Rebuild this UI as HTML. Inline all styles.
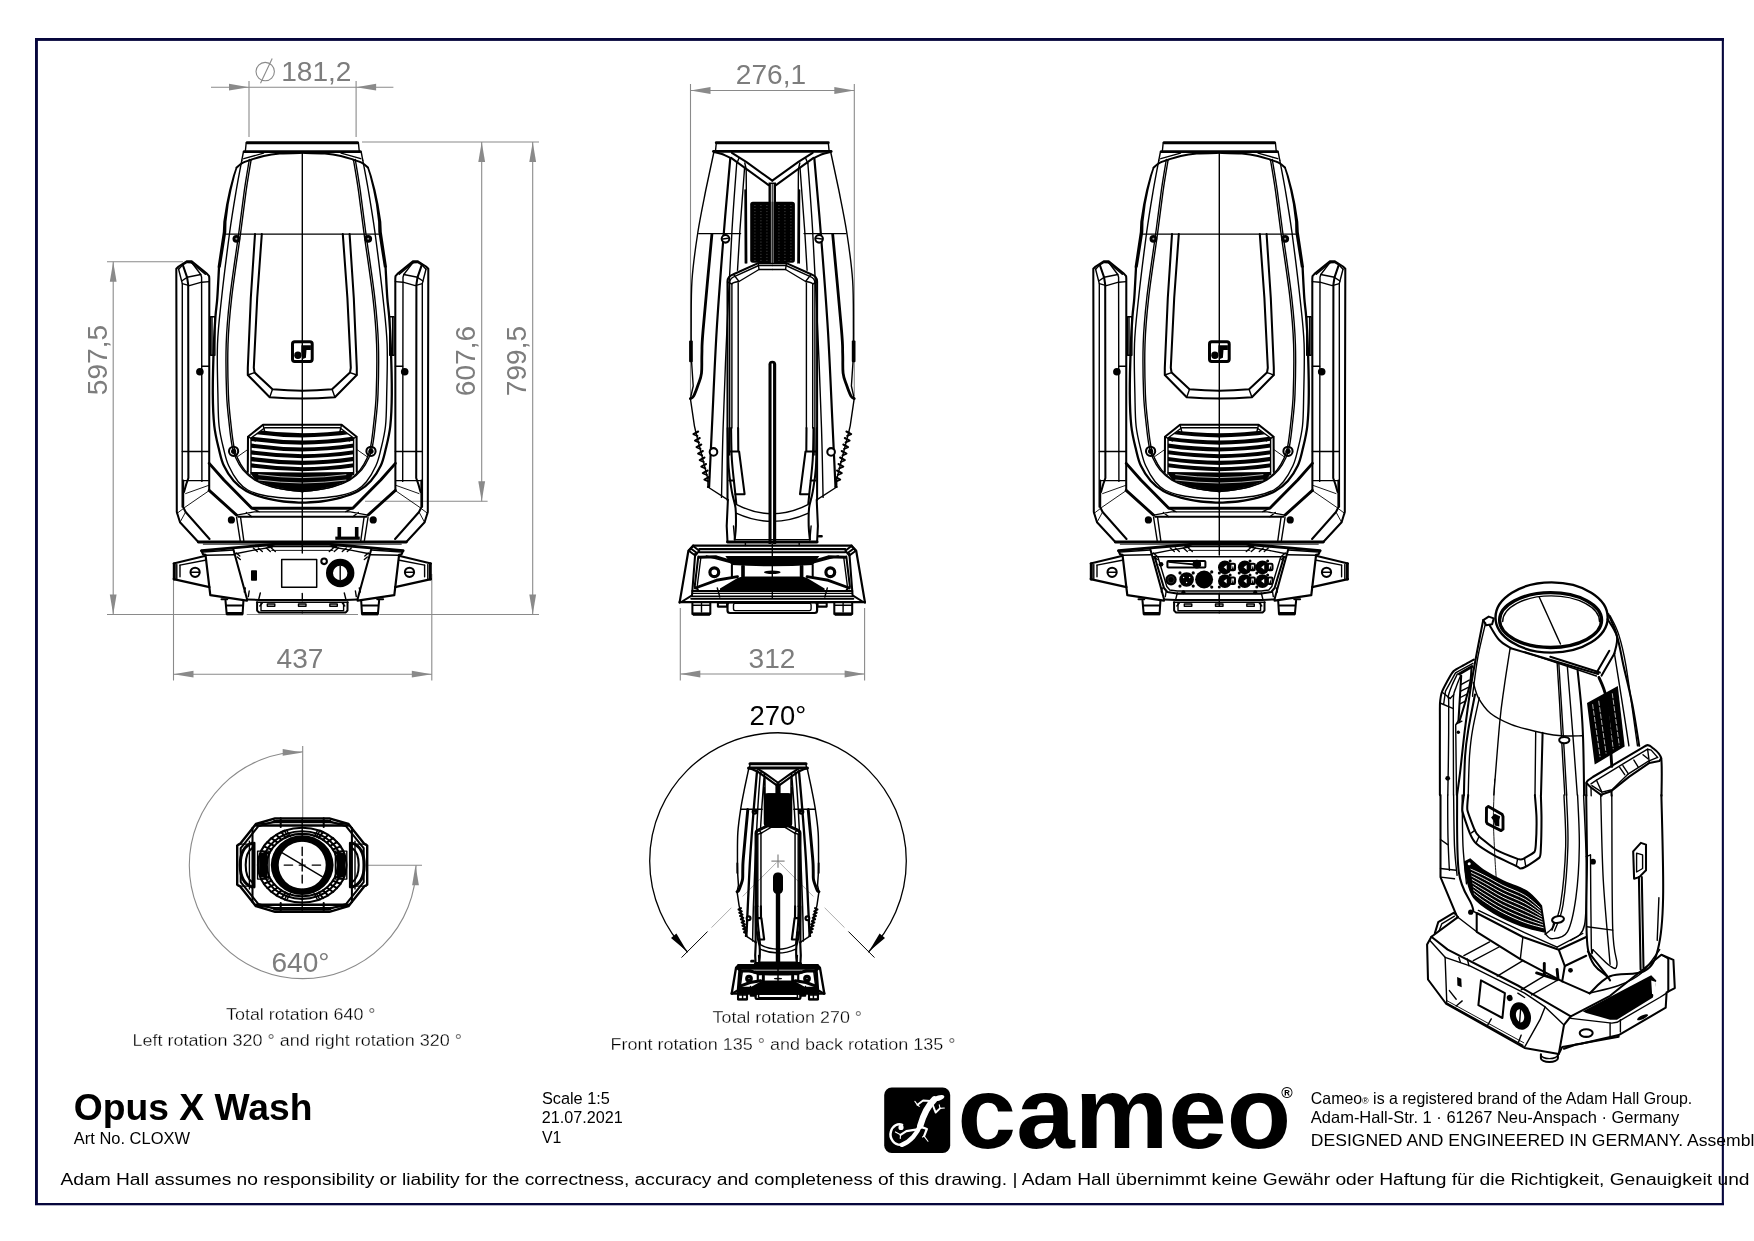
<!DOCTYPE html>
<html lang="en"><head><meta charset="utf-8"><title>Opus X Wash - Cameo dimension drawing</title>
<style>
html,body{margin:0;padding:0;background:#fff;}
body{width:1754px;height:1241px;overflow:hidden;position:relative;font-family:"Liberation Sans",sans-serif;}
svg{position:absolute;left:0;top:0;display:block;will-change:transform;}
text{font-family:"Liberation Sans",sans-serif;}
.k{fill:none;stroke:#000;stroke-width:calc(var(--sw,1)*1.4px);stroke-linejoin:round;stroke-linecap:round;}
.k2{fill:none;stroke:#000;stroke-width:calc(var(--sw,1)*2.05px);stroke-linejoin:round;stroke-linecap:round;}
.k3{fill:none;stroke:#000;stroke-width:calc(var(--sw,1)*2.9px);stroke-linejoin:round;stroke-linecap:round;}
.t{fill:none;stroke:#000;stroke-width:calc(var(--sw,1)*0.9px);stroke-linejoin:round;stroke-linecap:round;}
.f{fill:#000;stroke:none;}
.w{fill:#fff;stroke:#000;stroke-width:calc(var(--sw,1)*1.2px);}
.g{fill:none;stroke:#8a8a8a;stroke-width:1.1;}
.ga{fill:#8a8a8a;stroke:none;}
.gt{fill:#7d7d7d;font-size:28.1px;}
</style></head><body>
<svg width="1754" height="1241" viewBox="0 0 1754 1241">
<!-- frame -->
<g fill="#06063c">
<rect x="35" y="38" width="1689" height="2.9"/>
<rect x="35" y="1203" width="1689" height="2.3"/>
<rect x="35" y="38" width="2.9" height="1167"/>
<rect x="1721.8" y="38" width="2.1" height="1167"/>
</g>

<!-- dims -->
<path class="g" d="M249.0 81.0L249.0 137.0"/>
<path class="g" d="M356.1 81.0L356.1 137.0"/>
<path class="g" d="M211.0 87.2L393.4 87.2"/>
<path class="ga" d="M249.0 87.2L229.0 90.6L229.0 83.8Z"/>
<path class="ga" d="M356.1 87.2L376.1 83.8L376.1 90.6Z"/>
<circle class="g" cx="265.2" cy="71.6" r="9.2"/>
<path class="g" d="M260.5 83.3L272.2 58.6"/>
<text class="gt" x="316.3" y="81" text-anchor="middle">181,2</text>
<path class="g" d="M362.0 142.0L539.0 142.0"/>
<path class="g" d="M481.7 142.0L481.7 501.3"/>
<path class="ga" d="M481.7 142.0L485.1 162.0L478.3 162.0Z"/>
<path class="ga" d="M481.7 501.3L478.3 481.3L485.1 481.3Z"/>
<path class="g" d="M365.0 501.3L487.6 501.3"/>
<path class="g" d="M532.7 142.0L532.7 614.5"/>
<path class="ga" d="M532.7 142.0L536.1 162.0L529.3 162.0Z"/>
<path class="ga" d="M532.7 614.5L529.3 594.5L536.1 594.5Z"/>
<text class="gt" x="475.3" y="361" text-anchor="middle" transform="rotate(-90 475.3 361)">607,6</text>
<text class="gt" x="526.3" y="361" text-anchor="middle" transform="rotate(-90 526.3 361)">799,5</text>
<path class="g" d="M107.0 261.7L183.0 261.7"/>
<path class="g" d="M113.2 261.7L113.2 614.5"/>
<path class="ga" d="M113.2 261.7L116.6 281.7L109.8 281.7Z"/>
<path class="ga" d="M113.2 614.5L109.8 594.5L116.6 594.5Z"/>
<text class="gt" x="107.2" y="360" text-anchor="middle" transform="rotate(-90 107.2 360)">597,5</text>
<path class="g" d="M107.0 614.5L226.5 614.5"/>
<path class="g" d="M246.8 614.5L358.0 614.5"/>
<path class="g" d="M379.3 614.5L539.0 614.5"/>
<path class="g" d="M173.5 574.0L173.5 680.5"/>
<path class="g" d="M431.8 574.0L431.8 680.5"/>
<path class="g" d="M173.5 674.2L431.8 674.2"/>
<path class="ga" d="M173.5 674.2L193.5 670.8L193.5 677.6Z"/>
<path class="ga" d="M431.8 674.2L411.8 677.6L411.8 670.8Z"/>
<text class="gt" x="300" y="668.3" text-anchor="middle">437</text>
<path class="g" d="M690.5 84.0L690.5 396.0"/>
<path class="g" d="M854.3 84.0L854.3 396.0"/>
<path class="g" d="M690.5 90.5L854.3 90.5"/>
<path class="ga" d="M690.5 90.5L710.5 87.1L710.5 93.9Z"/>
<path class="ga" d="M854.3 90.5L834.3 93.9L834.3 87.1Z"/>
<text class="gt" x="771" y="83.6" text-anchor="middle">276,1</text>
<path class="g" d="M680.3 608.0L680.3 680.5"/>
<path class="g" d="M864.6 608.0L864.6 680.5"/>
<path class="g" d="M680.3 674.0L864.6 674.0"/>
<path class="ga" d="M680.3 674.0L700.3 670.6L700.3 677.4Z"/>
<path class="ga" d="M864.6 674.0L844.6 677.4L844.6 670.6Z"/>
<text class="gt" x="772" y="668.3" text-anchor="middle">312</text>
<path class="g" d="M302.7 751.8A113.4 113.4 0 1 0 416.1 865.2"/>
<path class="g" d="M302.7 746.0L302.7 818.5"/>
<path class="g" d="M367.0 865.2L422.0 865.2"/>
<path class="ga" d="M302.7 752.4L282.7 755.8L282.7 749.0Z"/>
<path class="ga" d="M415.5 865.2L418.9 885.2L412.1 885.2Z"/>
<text class="gt" x="300.5" y="971.5" text-anchor="middle">640°</text>
<path class="k" style="stroke-width:1.3" d="M687.3 951.8A128.3 128.3 0 1 1 868.7 951.8"/>
<path class="g" style="stroke-width:0.8;stroke:#999;stroke-dasharray:48 16 40" d="M776.6 862.5L711.5 927.6"/>
<path class="k" style="stroke-width:1" d="M707.3 931.8L681.8 957.3"/>
<path class="g" style="stroke-width:0.8;stroke:#999;stroke-dasharray:48 16 40" d="M779.4 862.5L844.5 927.6"/>
<path class="k" style="stroke-width:1" d="M848.7 931.8L874.2 957.3"/>
<path class="f" d="M687.3 951.8L671.0 938.1L676.4 933.5Z"/>
<path class="f" d="M868.7 951.8L879.6 933.5L885.0 938.1Z"/>
<path class="g" style="stroke-width:1.1;stroke:#777" d="M771.4 861.1L784.6 861.1"/>
<path class="g" style="stroke-width:1.1;stroke:#777" d="M778.0 854.5L778.0 867.7"/>

<!-- front -->
<defs>
<g id="hd">
<g id="hdL">
<path class="k" d="M-56.1 142.8L-56.9 150.8"/>
<path class="k" d="M-58.9 152L-60.5 160.3"/>
<path class="k2" d="M0 152.8C-3.8 152.9 -16.2 153.1 -22.6 153.6C-29 154.1 -33.9 154.9 -38.5 155.9C-43.1 156.9 -46.9 158.3 -50.5 159.5C-54.1 160.7 -57.6 161.8 -60.1 163.1C-62.6 164.4 -64.8 166.8 -65.7 167.5"/>
<path class="k" d="M-38.8 153.2L-58.5 158.7"/>
<path class="f" d="M-66.6 167.5L-69.3 175.5L-73.2 189.9L-76.2 204.2L-79 221.8L-79.5 232L-82.2 250L-84.8 267.6L-81.6 267.6L-78.8 250L-76 232L-75.8 221.8L-73.6 204.2L-70.8 189.9L-67.3 175.5L-64.8 167.5Z"/>
<path class="k3" style="stroke-width:2.3" d="M-83.3 267.6C-83.6 272.7 -84.4 289.9 -85 298C-85.6 306.1 -86.2 308.3 -86.8 316C-87.4 323.7 -88 331 -88.4 344C-88.9 357 -89.6 380.3 -89.5 394C-89.4 407.7 -89 416.7 -88 426C-87 435.3 -84.8 443.4 -83.2 450C-81.6 456.6 -80.9 460.6 -78.4 465.8C-76 471 -72.2 476.8 -68.5 481C-64.8 485.2 -61 488.2 -56 491C-51 493.8 -44.7 495.9 -38.5 497.6C-32.3 499.4 -25 500.6 -18.6 501.5C-12.2 502.4 -3.1 502.5 0 502.7"/>
<path class="k" d="M-60.5 160.3C-61.4 165.2 -64 178.1 -66 190C-68 201.9 -70.1 214 -72.6 232C-75 250 -78.7 279.3 -80.7 298C-82.7 316.7 -84.2 328 -84.8 344C-85.4 360 -84.7 380.3 -84.4 394C-84.1 407.7 -84.2 416.7 -83.2 426C-82.2 435.3 -80 443.4 -78.4 450C-76.8 456.6 -76 460.5 -73.6 465.8C-71.2 471.1 -67.3 477.8 -64.1 481.8C-60.9 485.8 -58.9 487.7 -54.5 490C-50.1 492.3 -44.1 494.2 -38 495.5C-31.9 496.8 -24.3 497.5 -18 498C-11.7 498.5 -3 498.5 0 498.6"/>
<path class="k" d="M-53 159.5C-53.8 164.6 -56.2 177.9 -57.9 190C-59.6 202.1 -61 214 -63.4 232C-65.8 250 -70.4 279.3 -72.5 298C-74.6 316.7 -75.6 328 -76.1 344C-76.6 360 -76.2 380.3 -75.7 394C-75.2 407.7 -73.8 417.3 -72.9 426C-72 434.7 -71.2 440.7 -70.2 446C-69.2 451.3 -68.4 453.8 -66.6 457.8C-64.8 461.8 -62.6 466.1 -59.4 469.8C-56.2 473.5 -52 477.4 -47.4 480.2C-42.8 483 -36.8 485 -31.5 486.6C-26.2 488.2 -20.6 489 -15.5 489.8C-10.4 490.6 -3.3 491.1 -0.9 491.3"/>
<path class="k" d="M-51.2 159.8C-52 164.9 -54.4 178.2 -56.1 190.3C-57.8 202.4 -59.2 214.3 -61.6 232.3C-64 250.3 -68.6 279.6 -70.7 298.3C-72.8 317 -73.8 328.3 -74.3 344.3C-74.8 360.3 -74.4 380.6 -73.9 394.3C-73.4 408 -72 417.6 -71.1 426.3C-70.2 435 -69.4 441 -68.4 446.3C-67.3 451.6 -66.6 454.1 -64.8 458.1C-63 462.1 -60.8 466.4 -57.6 470.1C-54.4 473.8 -50.2 477.7 -45.6 480.5C-41 483.3 -35 485.3 -29.7 486.9C-24.4 488.5 -18.8 489.3 -13.7 490.1C-8.6 490.9 -1.5 491.4 0.9 491.6"/>
<circle class="f" cx="-65.9" cy="238.8" r="3.9"/><circle cx="-65.9" cy="238.8" r="1" fill="#999"/>
<circle class="k2" cx="-68.7" cy="451.3" r="4.6"/><circle class="f" cx="-68.7" cy="451.3" r="2.6"/>
<path class="t" d="M-64.5 456.5L-54.5 449.5"/>
<path class="k2" d="M-47.3 234.1L-51.5 298L-54.5 367.8L-54.5 375L-32.6 397.2Q-15 398.4 0 398.6"/>
<path class="k2" d="M-40.5 234.1L-45.1 298L-48.5 367.8L-47.7 372.6L-29.8 389.3Q-14 390.6 0 390.8"/>
<path class="k" d="M-47.7 372.6L-54.5 375M-29.8 389.3L-32.6 397.2"/>
<rect class="k" x="-91.8" y="316.7" width="4.4" height="38.5"/>
<path class="k" d="M-90.3 317L-90.3 355"/>
<path class="k2" d="M0 424.7L-39.3 424.7L-54.3 436.7L-54.5 472"/>
<path class="k" d="M0 427.7L-37.5 427.7L-51.3 438L-51.3 474.5"/>
<path class="k" d="M-39.3 424.7L-37.5 432M-54.3 436.7L-47 441"/>
<clipPath id="vcl"><path d="M-51.3 490V438L-37.5 428.2H1V490Z"/></clipPath>
<path clip-path="url(#vcl)" d="M-52 431.4Q-25 435.2 1 435.4M-52 438.6Q-25 442.4 1 442.6M-52 445.5Q-25 449.3 1 449.5M-52 452.2Q-25 456.0 1 456.2M-52 458.9Q-25 462.7 1 462.9M-52 465.2Q-25 469.0 1 469.2" fill="none" stroke="#000" stroke-width="4.1"/>
<path class="f" d="M-52 472L-50 476L-46.5 480.2L-30.6 486.6L-14.6 489.8L0 491.3L0 472.5L-25 472.3Z"/>
<path d="M-44 474.6Q-22 477.4 0 477.6" fill="none" stroke="#fff" stroke-width="0.7"/>
<path d="M-44 480.0Q-22 482.8 0 483.0" fill="none" stroke="#fff" stroke-width="0.7"/>
</g>
<use href="#hdL" transform="scale(-1,1)"/>
<path class="k3" d="M-55.2 142.8L55.2 142.8"/>
<path class="k3" d="M-58 151.6L58 151.6"/>
<path class="k" d="M-76.5 234.1L76.5 234.1"/>
<rect class="k3" style="stroke-width:3" x="-9.8" y="341.7" width="19.7" height="19.7" rx="2.2"/>
<path class="f" d="M-0.9 345.3H8.6V350H4.2L3.6 357.8L0.5 359L-1 352Z"/><circle class="f" cx="-4.4" cy="355.3" r="3.7"/>
</g>
<g id="yk">
<g id="ykL">
<path class="k2" d="M-93.1 490.4L-93 278.5L-93.2 276.2L-95.2 273.9L-110.6 261.2L-115.2 261.2L-123.7 266.5L-126 268.8L-125.5 512L-122.3 522.3L-104 542"/>
<path class="k" d="M-123.7 269.3L-120.6 281.3L-120 283.6L-120.1 507.1"/>
<path class="k2" d="M-119.5 264.8L-115.2 277.3L-114.1 284.7L-113.9 478L-116 484L-118.3 492"/>
<path class="k" d="M-110.4 262.8L-101.5 274.5L-100.7 277.3L-100.4 481.4"/>
<path class="k" d="M-123.7 269.3L-119.5 264.8L-115.2 262.5L-110.4 262.8"/>
<path class="k" d="M-111.8 261.9L-97 274.2"/>
<path class="k" d="M-120.6 281L-115.2 277.3L-101.5 274.5M-120 283.6L-112.9 285.6L-100.7 282.2L-93 281.6"/>
<path class="k" d="M-120 451.5L-93.1 451.5M-119 480.6L-94 480.6"/>
<circle class="f" cx="-102.4" cy="371.8" r="3.8"/>
<path class="k" d="M-100.4 366.2L-93.1 366.2"/>
<path class="k2" d="M-119.1 480.6L-119.1 507.1L-116.7 512L-92.8 539"/>
<path class="t" d="M-93.2 485.2L-116.7 493.6M-94 491.2L-117.1 507.1M-125.5 513.5L-117.5 507.5M-122.3 522.3L-116.7 512"/>
<path class="k3" d="M-93.1 463.4L-78.4 480L-50.5 508.2L0 508.2"/>
<path class="k3" d="M-93.1 490.4L-65.7 515.1"/>
<path class="k" d="M-65.7 515.1L-48.1 511.9L0 511.9M-50.5 508.2L-43 511.9M-56 512.5L-50.5 516.7"/>
<path class="k2" d="M-64.1 516.7L0 516.7"/>
<path class="k" d="M-65.7 517.5L-62.1 540.7M-61.7 517.5L-58.5 540.7"/>
<circle class="f" cx="-70.9" cy="519.9" r="3.6"/>
</g>
<use href="#ykL" transform="scale(-1,1)"/>
<path class="k3" d="M-104 542L104 542"/>
<path class="t" d="M-99 544.2L99 544.2"/>
</g>
<g id="bs">
<g id="bsL">
<path class="k3" d="M-100.8 550.6L-26.6 544.2L0 544.2"/>
<path class="k" d="M-34.5 546.6L0 546.6"/>
<path class="t" d="M-30.6 550.4L0 550.4"/>
<path class="k3" style="stroke-width:2.2" d="M-100.8 550.8L-99.2 554.4L-96.8 554.8L-92 595.1L-55.3 600.6"/>
<path class="k" d="M-96.8 555.2L-68.1 554.8M-99.2 552L-68.9 550"/>
<path class="k2" d="M-68.9 549.5L-55.3 599"/>
<path class="k" d="M-68.1 554L-49.7 550.4L-30 547"/>
<path class="k2" d="M-55.3 599.4L-43.3 599.9L0 599.9"/>
<path class="k" d="M-45.7 602.3L0 602.3"/>
<path class="k" d="M-49 548L-45 551.5"/>
<path class="k" d="M-44 548L-40 551.5"/>
<path class="k" d="M-36 548L-32 551.5"/>
<path class="k" d="M-31 548L-27 551.5"/>
<path class="k" d="M-66 553L-62.5 556M-65 557L-62 559.5"/>
<path class="k" d="M-53.1 591L-54 596.6M-42 593L-43.5 599M-57 588L-58 592"/>
<path class="k3" style="stroke-width:3" d="M-128 563.8L-128 578.9"/>
<path class="k2" d="M-128.7 563.5L-97.6 556"/>
<path class="k" d="M-122.3 565.1L-97.2 560.3"/>
<path class="k3" style="stroke-width:2.2" d="M-128.7 579.1L-92.8 587.1"/>
<path class="k" d="M-122.3 565.1L-122.3 576.7M-125.5 564.5L-125.5 578.5"/>
<circle class="k2" cx="-107.2" cy="572.3" r="4.6"/>
<path class="k" d="M-111.5 572.3L-103 572.3"/>
<path class="k2" d="M-80.8 599.2L-75 599.2"/>
<path class="k2" d="M-76.8 600.6L-75.6 614M-58.9 601L-59.7 614M-76.3 605.4L-59.3 605.4"/>
<rect class="f" x="-75.8" y="612" width="16.4" height="3.4"/>
<path class="k3" style="stroke-width:2" d="M-45.2 602.3L-45.2 610.5L-43.5 612.4L0 612.4"/>
<path class="k" d="M-41.3 603L-41.3 610.6L0 610.6"/>
<path class="k" d="M-42.5 606L-40 603"/>
<rect class="k" x="-35" y="604" width="7.5" height="2.2"/>
</g>
<use href="#bsL" transform="scale(-1,1)"/>
<path class="k" d="M0 593.5L0 599.5"/>
<rect class="k" x="-3.8" y="604" width="7.5" height="2.2"/>
</g>
</defs>
<g transform="translate(302.3,0)">
<use href="#hd"/><use href="#yk"/><use href="#bs"/>
<path class="t" style="stroke-width:1.4" d="M0 152.8L0 553"/>
<rect class="f" x="33" y="536.6" width="24.5" height="3.2"/><rect class="f" x="35.2" y="527" width="3.6" height="10"/><rect class="f" x="52.6" y="527" width="3.6" height="10"/>
<rect class="k2" style="stroke-width:1.5" x="-20.6" y="559.5" width="35" height="27.8"/>
<circle cx="37.9" cy="573" r="10.7" fill="none" stroke="#000" stroke-width="7"/>
<path class="k" d="M37.9 566L37.9 580"/>
<circle class="k2" cx="21.8" cy="561.3" r="2.8"/>
<rect class="f" x="-51.3" y="570.3" width="6" height="10.4" rx="0.8"/>
</g>

<!-- side -->
<defs>
<g id="sd">
<g id="sdL">
<path class="k" d="M-56 142.8L-56.8 151"/>
<path class="k" d="M-58.4 152L-66.5 190L-66.5 190C-67.8 197 -72.1 217 -74.4 232C-76.7 247 -79.2 263.7 -80.3 280C-81.4 296.3 -81 316.3 -81.1 330C-81.2 343.7 -80.8 356.7 -80.7 362L-80.7 362L-79.1 386L-81.9 398.6L-77.9 425.8L-76.5 432"/>
<path class="k2" d="M-58.4 152C-57.1 152.3 -53.1 153 -50.4 154C-47.7 155 -43.4 157.2 -42 157.9"/>
<path class="k2" d="M-40.4 152.8L-26.1 161.9L0 180.7"/>
<path class="k2" d="M-41.2 157.9L-3.7 185.1"/>
<path class="k" d="M-27.5 163L-26.3 168.5M-33.5 158.5L-35.5 163.5"/>
<path class="k2" style="stroke-width:calc(var(--sw,1)*2.2px)" d="M-42 158C-43.1 170.3 -46.1 203.3 -48.4 232C-50.7 260.7 -53.6 297.3 -55.6 330C-57.6 362.7 -59.1 401.8 -60.4 428C-61.7 454.2 -62.7 477.2 -63.2 487"/>
<path class="k" d="M-35.6 163.5C-36.4 174.9 -38.8 204.2 -40.4 232C-42 259.8 -43.9 297.3 -45.4 330C-46.9 362.7 -48.3 400.1 -49.2 428C-50.1 455.9 -50.5 485.8 -50.8 497.4"/>
<path class="k" d="M-27.7 167.5L-32.5 232L-34.8 270.3M-26.1 169L-25.6 263M-27.3 190L-27 263"/>
<path class="k3" style="stroke-width:calc(var(--sw,1)*2.8px)" d="M-60.4 234.4C-61.9 250.3 -67.5 310.1 -69.2 330C-70.9 349.9 -70.1 346.7 -70.4 353.9C-70.7 361.1 -70.2 368 -70.8 373.1C-71.4 378.2 -72.7 380.5 -74 384.3C-75.3 388.1 -77.4 393.8 -78.7 396.2C-80 398.6 -81.4 398.2 -81.9 398.6"/>
<path class="k" d="M-73.6 233.6L-31.7 233.6"/>
<circle class="k2" cx="-46.8" cy="238.8" r="3.8" style="fill:#fff"/>
<path class="k" d="M-49.5 239L-44.2 238.3"/>
<rect class="f" x="-83.2" y="340.4" width="3.7" height="21.8" rx="1"/>
<circle class="k2" cx="-58.8" cy="451.9" r="3.8" style="fill:#fff"/>
<path class="k2" style="stroke-width:calc(var(--sw,1)*2px)" d="M-74.1 431.5L-78.9 434.1L-74.9 435.9M-72.5 438.0L-77.3 440.6L-73.3 442.4M-71.0 444.5L-75.8 447.1L-71.8 448.9M-69.4 451.0L-74.2 453.6L-70.2 455.4M-67.8 457.5L-72.6 460.1L-68.6 461.9M-66.2 464.0L-71.0 466.6L-67.0 468.4M-64.7 470.5L-69.5 473.1L-65.5 474.9M-63.1 477.0L-67.9 479.6L-63.9 481.4"/>
<path class="k" d="M-76.5 432L-64.4 479.1L-64.4 487L-44.4 499.8"/>
<path class="k2" d="M-63.2 487L-64.4 487"/>
<path class="k2" d="M-44.8 500V281.5Q-44.8 276.5 -38.8 274.3L-14.1 263.1H0"/>
<path class="k" d="M-42.6 455V283Q-42.6 278 -37.5 276.3L-13.6 265.5H0"/>
<path class="k" d="M-40.4 428V284Q-40 282.5 -33.3 281.5L-13.3 269.5H0"/>
<path class="k" d="M-34.1 283L-34.1 428"/>
<path class="k" d="M-38.8 274.3L-33.3 281.5M-14.1 263.1L-13.3 269.5M-44.8 282L-40.4 284"/>
<path class="k2" d="M-44.6 428C-44.4 434.6 -44.3 457.3 -43.6 467.9C-42.9 478.5 -41.5 485.1 -40.4 491.8C-39.3 498.5 -37.5 502.1 -36.8 507.8C-36.1 513.5 -36.3 520.7 -36.4 526C-36.5 531.3 -37.4 537.3 -37.6 539.6"/>
<path class="k2" d="M-41.2 428C-41.1 433.3 -41.1 449.4 -40.4 460C-39.7 470.6 -37.9 484.5 -37.2 491.8C-36.5 499.1 -36.2 501.8 -36 503.8"/>
<path class="k2" d="M-44.4 499.8L-45.6 526L-44.8 542"/>
<path class="k2" d="M-34.2 428L-34 451.5M-43.6 451.5L-33.2 451.5L-27.7 494.2L-36.8 494.2M-43 480.5L-38.5 480.5"/>
<path class="k" d="M-38.8 526L-37.6 539.6"/>
<path class="k" d="M-26.9 542L-26.9 545.5"/>
<path class="k3" style="stroke-width:calc(var(--sw,1)*2.2px)" d="M-79.1 545.6L-83.9 550.7L-92.7 602.6"/>
<path class="k2" d="M-77.1 553.9L-80.3 595.4L-91 602"/>
<path class="k2" d="M-79.1 546L-73.1 550.8L-77.1 555.5L-83.5 550.7ZM-81.5 548.5L-75 553.3"/>
<path class="k3" d="M-73 557.2L-56 556.8L-36.7 562.6"/>
<path class="k3" d="M-77 588L-56 580.3L-34.8 576.6"/>
<path class="k2" d="M-74 556.5L-77.6 586.7L-74.5 589.5"/>
<path class="k" d="M-71.5 558L-75 585.5"/>
<path class="k2" d="M-40.4 565L-40.4 576.5M-30.1 566L-30.1 576.5M-28.5 566L-28.5 576.5"/>
<circle cx="-58" cy="572.3" r="4.4" fill="none" stroke="#000" style="stroke-width:calc(var(--sw,1)*3.2px)"/>
<path class="k" d="M-66 556L-40 563"/>
<path class="k" d="M-55 588L-52.5 597"/>
<rect class="k2" x="-79.9" y="602" width="17.9" height="12"/>
<rect class="f" x="-79.5" y="612.4" width="17.1" height="3.4"/>
<path class="k" d="M-70.8 602L-70.8 612M-79.5 605.2L-62.5 605.2"/>
<rect class="k2" x="-54.4" y="602.6" width="9.2" height="4"/>
</g>
<use href="#sdL" transform="scale(-1,1)"/>
<path class="k3" d="M-56 142.8L56 142.8"/>
<path class="k3" d="M-58.8 151.4L58.8 151.4"/>
<rect class="f" x="-3.8" y="182.5" width="7.5" height="21"/>
<path d="M-0.9 184V262.7M0.9 184V262.7" stroke="#fff" style="stroke-width:calc(var(--sw,1)*0.55px)" fill="none"/>
<rect class="f" x="-22.1" y="201.8" width="44.7" height="60.9" rx="2.6"/>
<path d="M-17.7 205.5h.7M-17.7 208.6h.7M-17.7 211.6h.7M-17.7 214.7h.7M-17.7 217.7h.7M-17.7 220.8h.7M-17.7 223.8h.7M-17.7 226.9h.7M-17.7 229.9h.7M-17.7 233.0h.7M-17.7 236.0h.7M-17.7 239.1h.7M-17.7 242.1h.7M-17.7 245.2h.7M-17.7 248.2h.7M-17.7 251.3h.7M-17.7 254.3h.7M-17.7 257.4h.7M-17.7 260.4h.7M-11.7 205.5h.7M-11.7 208.6h.7M-11.7 211.6h.7M-11.7 214.7h.7M-11.7 217.7h.7M-11.7 220.8h.7M-11.7 223.8h.7M-11.7 226.9h.7M-11.7 229.9h.7M-11.7 233.0h.7M-11.7 236.0h.7M-11.7 239.1h.7M-11.7 242.1h.7M-11.7 245.2h.7M-11.7 248.2h.7M-11.7 251.3h.7M-11.7 254.3h.7M-11.7 257.4h.7M-11.7 260.4h.7M-5.7 205.5h.7M-5.7 208.6h.7M-5.7 211.6h.7M-5.7 214.7h.7M-5.7 217.7h.7M-5.7 220.8h.7M-5.7 223.8h.7M-5.7 226.9h.7M-5.7 229.9h.7M-5.7 233.0h.7M-5.7 236.0h.7M-5.7 239.1h.7M-5.7 242.1h.7M-5.7 245.2h.7M-5.7 248.2h.7M-5.7 251.3h.7M-5.7 254.3h.7M-5.7 257.4h.7M-5.7 260.4h.7M6.3 205.5h.7M6.3 208.6h.7M6.3 211.6h.7M6.3 214.7h.7M6.3 217.7h.7M6.3 220.8h.7M6.3 223.8h.7M6.3 226.9h.7M6.3 229.9h.7M6.3 233.0h.7M6.3 236.0h.7M6.3 239.1h.7M6.3 242.1h.7M6.3 245.2h.7M6.3 248.2h.7M6.3 251.3h.7M6.3 254.3h.7M6.3 257.4h.7M6.3 260.4h.7M12.3 205.5h.7M12.3 208.6h.7M12.3 211.6h.7M12.3 214.7h.7M12.3 217.7h.7M12.3 220.8h.7M12.3 223.8h.7M12.3 226.9h.7M12.3 229.9h.7M12.3 233.0h.7M12.3 236.0h.7M12.3 239.1h.7M12.3 242.1h.7M12.3 245.2h.7M12.3 248.2h.7M12.3 251.3h.7M12.3 254.3h.7M12.3 257.4h.7M12.3 260.4h.7M18.3 205.5h.7M18.3 208.6h.7M18.3 211.6h.7M18.3 214.7h.7M18.3 217.7h.7M18.3 220.8h.7M18.3 223.8h.7M18.3 226.9h.7M18.3 229.9h.7M18.3 233.0h.7M18.3 236.0h.7M18.3 239.1h.7M18.3 242.1h.7M18.3 245.2h.7M18.3 248.2h.7M18.3 251.3h.7M18.3 254.3h.7M18.3 257.4h.7M18.3 260.4h.7" stroke="#bbb" style="stroke-width:calc(var(--sw,1)*0.6px)" fill="none"/>
<path d="M-0.9 184V262.7M0.9 184V262.7" stroke="#fff" style="stroke-width:calc(var(--sw,1)*0.55px)" fill="none"/>
<path class="k" d="M-35.6 504.6Q0 523 35.6 504.6M-35.6 513.4Q0 529.4 35.6 513.4"/>
<path class="f" d="M-3.8 544V364.5a3.8 3.8 0 0 1 7.7 0V544Z"/>
<path d="M0 363.5V544" stroke="#fff" style="stroke-width:calc(var(--sw,1)*1.5px)" fill="none"/>
<path class="k" d="M0 544L0 598"/>
<path class="k3" d="M-44.8 542L44.8 542"/>
<path class="k" d="M-37.6 539.6L37.6 539.6"/>
<path class="k3" style="stroke-width:calc(var(--sw,1)*2.2px)" d="M-79.1 545.6L79.1 545.6"/>
<path class="k2" d="M-73 549.1L73 549.1M-73 552.3L73 552.3"/>
<path class="f" d="M-47 556L47 556L40.6 565Q0 567.6 -40.6 565Z"/>
<path class="f" d="M-52.3 588.4L-34.8 578L-30 576.4H30L34.8 578L52.3 588.4V590H-52.3Z"/>
<ellipse class="f" cx="0" cy="572.3" rx="8.3" ry="1.8"/>
<path class="k2" d="M-80 591L80 591M-81 598.8L81 598.8"/>
<path class="k" d="M-80 593.4L80 593.4M-80.5 596.2L80.5 596.2"/>
<path class="k3" style="stroke-width:calc(var(--sw,1)*2.2px)" d="M-92.7 602.2L92.7 602.2"/>
<rect class="k3" style="stroke-width:calc(var(--sw,1)*2.2px)" x="-44.8" y="602.4" width="89.6" height="10.6" rx="2.5"/>
<rect class="k" x="-38.8" y="603.4" width="77.6" height="7.2" rx="1.5"/>
</g>
</defs>
<use href="#sd" transform="translate(772.3,0)"/>
<g transform="translate(772.3,0)"><rect class="f" x="45.5" y="535" width="5" height="2.6" rx="1"/></g>

<!-- rear -->
<g transform="translate(1219.3,0)">
<use href="#hd"/><use href="#yk"/><use href="#bs"/>
<path class="t" style="stroke-width:1.4" d="M0 152.8L0 555M0 593.5L0 606"/>
<path class="k2" d="M-64.7 556.7L-55.3 588L-52 592L-42.3 593.6L42.3 593.6L52 592L55.3 588L64.7 556.7"/>
<path class="k" d="M-61.5 556.7L-52.5 586.5L-49.5 590L-42 591L42 591L49.5 590L52.5 586.5L61.5 556.7"/>
<path class="k" d="M-66 556.7L66 556.7"/>
<circle class="f" cx="-58.3" cy="564.3" r="2.4"/>
<rect class="k2" x="-51.9" y="560.9" width="38" height="6.6" rx="1"/>
<path class="f" d="M-51 561.5L-24 563.6L-24 565.4L-51 562.8Z"/><circle class="f" cx="-22.4" cy="564.2" r="4.4"/><rect class="w" x="-18.2" y="562.6" width="2.2" height="3" style="stroke:none"/>
<circle class="f" cx="-48.3" cy="579.7" r="5.7"/><circle cx="-48.3" cy="579.7" r="3.2" fill="none" stroke="#444" stroke-width="0.6"/>
<circle class="f" cx="-32.7" cy="579.5" r="7.3"/>
<circle class="f" cx="-39.3" cy="572.9" r="1.6"/>
<circle class="f" cx="-26.1" cy="572.9" r="1.6"/>
<circle class="f" cx="-39.3" cy="586.1" r="1.6"/>
<circle class="f" cx="-26.1" cy="586.1" r="1.6"/>
<circle class="f" cx="-15.2" cy="579.5" r="9"/>
<circle class="f" cx="-7.6" cy="571.9" r="1.6"/>
<circle class="f" cx="-7.6" cy="587.1" r="1.6"/>
<circle cx="-35.7" cy="577.5" r="0.7" fill="#fff"/>
<circle cx="-29.700000000000003" cy="577.5" r="0.7" fill="#fff"/>
<circle cx="-32.7" cy="582.5" r="0.7" fill="#fff"/>
<circle class="f" cx="5.6" cy="567.3" r="6.9"/>
<circle class="f" cx="10.8" cy="561.1" r="1.5"/><circle class="f" cx="0.0" cy="573.1" r="1.5"/>
<rect class="k2" x="11.1" y="563.7" width="4.6" height="6.4" rx="1.2" style="fill:#fff"/>
<path d="M4.4 567.3l3 -2.4l0 4.8z" fill="#fff"/><path d="M12.6 569.1l1 -3.6l1 3.6z" fill="#000"/>
<circle class="f" cx="5.6" cy="581.1" r="6.9"/>
<circle class="f" cx="10.8" cy="574.9" r="1.5"/><circle class="f" cx="0.0" cy="586.9" r="1.5"/>
<rect class="k2" x="11.1" y="577.5" width="4.6" height="6.4" rx="1.2" style="fill:#fff"/>
<path d="M4.4 581.1l3 -2.4l0 4.8z" fill="#fff"/><path d="M12.6 582.9l1 -3.6l1 3.6z" fill="#000"/>
<circle class="f" cx="25.5" cy="567.3" r="6.9"/>
<circle class="f" cx="30.7" cy="561.1" r="1.5"/><circle class="f" cx="19.9" cy="573.1" r="1.5"/>
<rect class="k2" x="31.0" y="563.7" width="4.6" height="6.4" rx="1.2" style="fill:#fff"/>
<path d="M24.3 567.3l3 -2.4l0 4.8z" fill="#fff"/><path d="M32.5 569.1l1 -3.6l1 3.6z" fill="#000"/>
<circle class="f" cx="25.5" cy="581.1" r="6.9"/>
<circle class="f" cx="30.7" cy="574.9" r="1.5"/><circle class="f" cx="19.9" cy="586.9" r="1.5"/>
<rect class="k2" x="31.0" y="577.5" width="4.6" height="6.4" rx="1.2" style="fill:#fff"/>
<path d="M24.3 581.1l3 -2.4l0 4.8z" fill="#fff"/><path d="M32.5 582.9l1 -3.6l1 3.6z" fill="#000"/>
<circle class="f" cx="43.1" cy="567.3" r="6.9"/>
<circle class="f" cx="48.3" cy="561.1" r="1.5"/><circle class="f" cx="37.5" cy="573.1" r="1.5"/>
<rect class="k2" x="48.6" y="563.7" width="4.6" height="6.4" rx="1.2" style="fill:#fff"/>
<path d="M41.9 567.3l3 -2.4l0 4.8z" fill="#fff"/><path d="M50.1 569.1l1 -3.6l1 3.6z" fill="#000"/>
<circle class="f" cx="43.1" cy="581.1" r="6.9"/>
<circle class="f" cx="48.3" cy="574.9" r="1.5"/><circle class="f" cx="37.5" cy="586.9" r="1.5"/>
<rect class="k2" x="48.6" y="577.5" width="4.6" height="6.4" rx="1.2" style="fill:#fff"/>
<path d="M41.9 581.1l3 -2.4l0 4.8z" fill="#fff"/><path d="M50.1 582.9l1 -3.6l1 3.6z" fill="#000"/>
<circle class="f" cx="-35.9" cy="592.2" r="2"/><circle class="f" cx="35.9" cy="592.2" r="2"/>
</g>

<!-- iso -->
<ellipse class="k2" cx="1551.6" cy="617.5" rx="56.1" ry="35.1" style="stroke-width:2.4"/>
<ellipse class="k3" cx="1550.6" cy="620.1" rx="51.0" ry="27.4" style="stroke-width:3.3"/>
<path class="k" d="M1502.7 621.6A48.4 25.7 0 0 1 1599.5 621.6"/>
<path class="k" d="M1539.2 597C1540.6 600.1 1545 609.8 1547.7 615.8C1550.4 621.8 1553.3 628.2 1555.4 632.9C1557.5 637.6 1559.7 642.2 1560.5 644"/>
<path class="k2" d="M1489.6 625.2C1491.1 627.6 1495.4 635.9 1499 639.7C1502.5 643.6 1508.9 646.9 1510.9 648.3"/>
<path class="k2" d="M1510.9 648.3L1598.2 673.9"/>
<path class="k" d="M1524.6 652L1596.4 676"/>
<path class="k2" d="M1550.3 656.8L1599.9 672.6"/>
<path class="k2" d="M1483.2 620.1L1488.7 616.6L1493.8 618.4L1492.1 624.3L1486.1 625.2Z"/>
<path class="k2" d="M1483.2 620.1C1482.1 625.6 1478.8 642.2 1476.7 653.4C1474.6 664.7 1472.7 674.8 1470.7 687.6C1468.7 700.4 1466.6 716.1 1464.8 730.4C1463 744.6 1461.3 762.4 1460 773.1C1458.7 783.9 1457.5 791.4 1457.1 795"/>
<path class="k" d="M1485.6 623C1484.3 628.6 1480 645.8 1477.9 656.8C1475.9 667.9 1474.2 682.8 1473.3 689.3C1472.4 695.9 1472.7 695 1472.6 696.2"/>
<path class="k" d="M1479.3 697.9C1478.2 703.3 1474.1 720.7 1472.5 730.4C1470.8 740.1 1470.3 745.3 1469.5 756C1468.8 766.8 1468.4 788.5 1468.2 795"/>
<path class="k2" d="M1475 694.5C1473.9 700.4 1469.8 720.1 1468.2 730.4C1466.5 740.6 1465.8 745.3 1465.1 756C1464.4 766.8 1464.1 788.5 1463.9 795"/>
<path class="k" d="M1473.3 682.5C1474.2 685.1 1475.6 692.7 1478.4 697.9C1481.3 703 1485 708.9 1490.4 713.3C1495.8 717.7 1503.5 721.4 1510.9 724.4C1518.3 727.4 1526.9 729.4 1534.9 731.2C1542.9 733.1 1551 734.7 1558.8 735.5C1566.7 736.3 1578.1 735.8 1581.9 735.8"/>
<path class="k" d="M1510.1 648.3C1509.1 654.8 1505.8 675.4 1504.1 687.6C1502.4 699.9 1501.5 703.9 1499.8 721.8C1498.1 739.7 1494.8 782.8 1493.8 795"/>
<path class="k" d="M1535.7 732.1L1535 795"/>
<path class="k2" d="M1542.6 732.9L1541 795"/>
<path class="k" d="M1557.1 662C1557.5 669.1 1559 692.5 1559.7 704.7C1560.4 717 1560.5 720.5 1561.4 735.5C1562.2 750.6 1564.2 785.1 1564.8 795"/>
<path class="k" d="M1558.8 662.8C1559.2 669.8 1560.6 692.6 1561.4 704.7C1562.1 716.8 1562.4 720.5 1563.3 735.5C1564.2 750.6 1566.1 785.1 1566.7 795"/>
<path class="k" d="M1567.4 667.1C1568.2 677.6 1570.9 709.1 1572.5 730.4C1574.2 751.7 1576.5 784.2 1577.3 795"/>
<path class="k2" d="M1577.6 670.5C1578.2 676.2 1580.1 693.3 1581.1 704.7C1582 716.1 1582.6 723.9 1583.1 738.9C1583.6 754 1584 785.7 1584.1 795"/>
<ellipse class="k2" cx="1564.3" cy="740.1" rx="5.1" ry="3.1" style="fill:#fff"/>
<path class="k2" d="M1596.4 673.1L1609.3 650.8"/>
<path class="k2" d="M1601.6 675.6L1614.4 653.4"/>
<path class="k2" d="M1614.4 653.4C1614.8 650.6 1618 642.9 1617 636.3C1616 629.8 1609.8 617.8 1608.4 614.1"/>
<path class="k2" d="M1607.6 619.2C1609.1 622.1 1614.3 628.3 1617 636.3C1619.7 644.3 1621.2 655.7 1623.8 667.1C1626.4 678.5 1629.8 691.6 1632.4 704.7C1634.9 717.8 1638.1 738.9 1639.2 745.8"/>
<path class="k" d="M1610.1 615.8C1611.6 618.9 1616.1 626.3 1618.7 634.6C1621.3 642.9 1622.7 646.9 1625.9 665.4C1629 683.9 1635.6 732.4 1637.5 745.8"/>
<path class="k" d="M1614.4 653.4C1615.5 660.5 1618.8 680.8 1621.2 696.2C1623.7 711.6 1627.7 737.5 1628.9 745.8"/>
<path class="f" d="M1587 703L1617.8 685.9L1624.7 746.6L1594.7 764.6Z"/>
<path d="M1592.6 704.2L1600.1 757.1M1598.7 700.8L1606.1 753.5M1606.1 696.7L1613.3 749.2M1612.3 693.3L1619.3 745.6" stroke="#fff" stroke-width="0.7" stroke-dasharray="5 1.5" fill="none"/>
<path class="k3" d="M1599 677.4C1600.2 680.5 1604.1 687.3 1605.9 696.2C1607.6 705 1608.3 718.7 1609.3 730.4C1610.3 742.1 1611.4 760.3 1611.8 766.3"/>
<path class="k2" d="M1586.4 795.7C1586.4 794.5 1586.2 784.5 1586.4 783C1586.6 781.4 1587.6 780.8 1588.2 780.2C1588.9 779.6 1592.4 777.3 1592.8 777L1592.8 777L1643 747.4L1643 747.4C1643.5 747.1 1646.5 745.1 1647.6 745.1C1648.6 745.1 1650.5 745.8 1652.1 747.4C1653.7 748.9 1660.1 752.7 1661.2 758.3C1662.3 764 1661.5 791.4 1661.5 795.7"/>
<path class="k" d="M1591 783.9L1596.5 780.2L1624.7 762.9L1643 751.9L1647.6 749.2L1651.2 750.1L1657.6 757.4"/>
<path class="k2" d="M1586.4 783L1591 787.5L1601 794.8L1611.1 791.2L1629.3 776.6L1649.4 762.9L1659.4 761.1L1661.2 758.3"/>
<path class="k" d="M1591.9 785.7L1601.9 792.1L1612 789.8L1628.4 773.8L1648.5 761.1L1657.6 757.4"/>
<path class="k" d="M1591 787.5L1591.2 795.7"/>
<path class="k2" d="M1601.5 794.8L1601.6 795.7"/>
<path class="k2" d="M1611.5 791.2L1611.6 795.7"/>
<path class="k" d="M1619.7 767.4L1624.7 774.7"/>
<path class="k" d="M1622.9 765.6L1628.4 773.8"/>
<path class="k" d="M1633.9 760.1L1638.4 767.4"/>
<path class="k" d="M1643 754.7L1648 758.8"/>
<path class="k" d="M1596.5 780.2L1601.9 792.1"/>
<path class="k" d="M1647.6 749.2L1649.4 762.9"/>
<path class="k2" d="M1473.8 659.6C1472.6 660.3 1466.1 663.8 1463.8 665.1C1461.4 666.4 1455.6 669.2 1453.7 671C1451.8 672.9 1448.7 678.6 1447.3 681.1C1446 683.5 1442.7 689.5 1441.9 692C1441 694.6 1440.3 699.4 1440 703C1439.8 706.5 1439.9 711.4 1439.9 722.1C1439.8 732.9 1439.9 786.6 1439.9 795.1"/>
<path class="k" d="M1472.9 663.3L1455.5 672.8L1445.5 691.1L1443.7 703.9"/>
<path class="k3" d="M1472 666.6L1459.2 673.9"/>
<path class="k" d="M1457.4 673.9C1456.5 675.9 1453.4 681.8 1451.9 685.6C1450.4 689.4 1448.8 693.7 1448.2 696.6C1447.7 699.5 1448.7 694.1 1448.7 703C1448.8 711.8 1448.7 734.1 1448.5 749.5C1448.4 764.8 1447.9 787.5 1447.8 795.1"/>
<path class="k" d="M1460.6 675.8C1459.8 677.7 1457.1 684.3 1456 687.4C1454.9 690.6 1454.2 691.4 1453.7 694.7C1453.3 698.1 1453.3 697.6 1453.3 707.5C1453.2 717.4 1453.3 739.5 1453.4 754.1C1453.4 768.6 1453.5 788.3 1453.5 795.1"/>
<path class="k" d="M1441.9 692L1450.1 698.4"/>
<path class="k" d="M1440 703L1452.8 708.4"/>
<path class="k" d="M1450.1 698.4L1453.7 694.7"/>
<path class="k2" d="M1461.2 675.8L1458.5 720.3"/>
<path class="k2" d="M1471.5 667.4C1471.3 670 1471.3 676.8 1470.1 682.9C1469 689 1466.5 697.3 1464.7 703.9C1462.8 710.4 1460.1 719.1 1459.2 722.1"/>
<path class="k" d="M1461 684.7L1469.2 680.1"/>
<path class="k" d="M1460.8 691.1L1468.3 687.4"/>
<path class="k" d="M1460.4 697.5L1467.4 693.8"/>
<path class="k" d="M1459.9 703.9L1465.8 700.9"/>
<path class="k" d="M1456.5 723.9L1461.9 721.2"/>
<path class="k" d="M1458.5 720.3L1455.7 724.9L1456.5 795.1"/>
<ellipse class="f" cx="1458.3" cy="732.2" rx="1.7" ry="1.7"/>
<circle class="f" cx="1447.7" cy="778.3" r="2.4"/>
<path class="k2" d="M1440.5 795L1440.5 877.1L1456.2 914.7L1457.9 917.3"/>
<path class="k" d="M1447.7 795C1447.7 802.1 1447.7 825.2 1448 837.8C1448.3 850.3 1449.1 864.8 1449.4 870.3"/>
<path class="k" d="M1453.6 795C1453.8 803.6 1453.9 832.9 1454.5 846.3C1455.1 859.7 1456.6 870.5 1457.1 875.4"/>
<path class="k" d="M1440.5 839.5L1447.7 844.6"/>
<path class="k" d="M1440.5 868.5L1456.2 870.3"/>
<path class="k" d="M1440.8 877.1L1454.5 878.8"/>
<path class="k2" d="M1457.1 795C1457.3 807.8 1456.3 853.7 1458.8 872C1461.2 890.2 1469.2 897.9 1471.6 904.5C1474 911 1473 910.2 1473.3 911.3"/>
<path class="k" d="M1462.2 795C1462.3 803.6 1462.3 831.5 1463 846.3C1463.8 861.1 1465.9 877.7 1466.5 883.9"/>
<path class="k2" d="M1463.9 795C1463.8 796.3 1461.8 807.8 1462.4 811C1462.9 814.2 1468.9 831.1 1470.1 833.8C1471.3 836.5 1474.4 842 1476.5 843.8C1478.5 845.7 1491.4 853.8 1494.7 855.7C1498.1 857.6 1514.5 865.1 1516.6 866.2C1518.8 867.3 1519.5 868.4 1520.3 868.5C1521.1 868.5 1524.2 867.6 1525.8 866.6C1527.4 865.7 1538.2 859 1539.5 857.5C1540.7 856.1 1540.7 852.7 1540.8 849.3C1541 846 1541.5 821.9 1541.5 817.4C1541.5 812.8 1540.9 796.9 1540.9 795"/>
<path class="k2" d="M1468.2 795C1468.1 796.3 1466.8 807.1 1467.4 810.1C1467.9 813 1473.7 827.9 1474.7 830.1C1475.7 832.4 1477.4 834.9 1479.2 836.5C1481.1 838.2 1493.4 848.4 1496.6 850.2C1499.8 852.1 1515.4 858.1 1517.6 858.9C1519.7 859.6 1521.5 859.4 1522.1 859.3C1522.7 859.3 1523.8 858.6 1524.9 858C1525.9 857.4 1533.5 853.1 1534.4 852C1535.3 850.9 1535.6 847.6 1535.8 844.7C1536 841.9 1536.6 821.5 1536.5 817.4C1536.5 813.2 1535 796.9 1534.9 795"/>
<path class="k" d="M1471.5 832.9L1475.1 830.1"/>
<path class="k" d="M1476 843.4L1478.8 837"/>
<path class="k" d="M1516.2 866.2L1517.6 859.1"/>
<path class="k" d="M1525.8 866.6L1524.4 858.2"/>
<path class="k3" d="M1486.5 807.8L1488.4 806.4L1502 814.2L1503 816.5L1503 829.2L1501.1 830.6L1487.4 823.8L1486.4 821.9Z"/>
<path class="f" d="M1491.1 817.4L1494.7 813.7L1500.2 816.5L1499.3 820.1L1499.3 826.5L1494.7 825.6L1493.8 821Z"/>
<path class="t" d="M1494.7 779.1C1494.5 785.4 1493.4 804.9 1493.4 817.4C1493.4 829.8 1494.3 844 1494.7 853.9C1495.2 863.8 1495.9 872.9 1496.1 876.7"/>
<path d="M1470.1 859.1C1472.6 861.1 1479.3 867.3 1484.7 871C1490.2 874.6 1496 877.7 1503 881C1510 884.4 1520.3 887 1526.7 891.1C1533.1 895.2 1538.9 903.2 1541.3 905.7L1545.4 932.1C1541.4 931.1 1529.8 928.9 1521.2 925.7C1512.6 922.5 1501.8 917.7 1493.9 913C1486 908.2 1478.4 903.4 1473.8 897.4C1469.2 891.5 1468 883.3 1466.5 877.4C1465 871.4 1465 864.4 1464.7 861.9Z" fill="#000" stroke="#000" stroke-width="1.6" stroke-linejoin="round"/>
<path d="M1470.6 869.1C1473.1 870.2 1480.2 873.3 1485.6 876.1C1491 878.8 1496.4 882.3 1502.9 885.5C1509.4 888.8 1518.6 891.6 1524.8 895.4C1531 899.2 1537.8 906 1540.4 908.2M1471 872.5C1473.4 873.7 1480.2 877 1485.5 879.8C1490.8 882.6 1496.3 886.1 1502.8 889.4C1509.3 892.6 1518.4 895.6 1524.7 899.2C1531 902.8 1538.1 909 1540.8 911M1471.5 876C1473.8 877.3 1480.2 880.6 1485.4 883.5C1490.6 886.3 1496.2 890 1502.7 893.2C1509.2 896.5 1518.2 899.6 1524.6 903.1C1531 906.5 1538.5 912 1541.3 913.8M1471.9 879.5C1474.2 880.8 1480.1 884.2 1485.3 887.1C1490.4 890.1 1496.1 893.8 1502.6 897.1C1509.1 900.4 1518 903.6 1524.5 906.9C1531 910.1 1538.9 915 1541.7 916.6M1472.4 883C1474.5 884.3 1480.1 887.8 1485.2 890.8C1490.2 893.8 1496 897.6 1502.5 900.9C1509 904.2 1517.8 907.6 1524.4 910.7C1531 913.8 1539.2 918 1542.2 919.4M1472.9 886.4C1474.9 887.8 1480.1 891.4 1485.1 894.5C1490 897.5 1495.9 901.4 1502.4 904.8C1508.9 908.1 1517.6 911.6 1524.3 914.6C1531 917.5 1539.6 920.9 1542.7 922.2M1473.3 889.9C1475.3 891.3 1480.1 895.1 1485 898.2C1489.8 901.3 1495.7 905.2 1502.3 908.6C1508.8 912 1517.4 915.6 1524.2 918.4C1531 921.1 1540 923.9 1543.1 925M1473.8 893.4C1475.6 894.8 1480.1 898.7 1484.9 901.8C1489.6 905 1495.6 909 1502.2 912.4C1508.7 915.8 1517.2 919.7 1524.1 922.2C1531 924.8 1540.3 926.9 1543.6 927.8" fill="none" stroke="#fff" stroke-width="0.95"/>
<circle cx="1469.2" cy="863.7" r="1.5" fill="#fff"/>
<path class="k" d="M1564 795C1564.2 803.6 1566.2 828.1 1565.7 846.3C1565.1 864.6 1562.8 890.5 1560.5 904.5C1558.3 918.4 1553.4 925.8 1552 930.1"/>
<path class="k" d="M1566.5 795C1566.7 803.6 1568.5 828.1 1567.9 846.3C1567.3 864.6 1565.3 890.3 1563.1 904.5C1560.9 918.6 1556 926.5 1554.5 931"/>
<path class="k" d="M1577.6 795C1577.9 803.6 1579.6 829.2 1579.3 846.3C1579.1 863.4 1577.9 883.4 1575.9 897.6C1573.9 911.9 1571.4 925 1567.4 931.8C1563.4 938.7 1555.7 938.4 1552 938.7C1548.3 938.9 1546.3 934.4 1545.1 933.5"/>
<path class="k" d="M1583.6 795C1584 806.4 1586 841.7 1586.2 863.4C1586.3 885.1 1587 912.2 1584.5 925C1581.9 937.8 1573.1 937.8 1570.8 940.4"/>
<ellipse class="k2" cx="1558.0" cy="919.5" rx="6.0" ry="3.4" transform="rotate(-10 1558.0 919.5)" style="fill:#fff"/>
<path class="k" d="M1553.7 922.4C1553.4 923.4 1553.4 926.4 1552 928.4C1550.6 930.4 1546.3 933.4 1545.1 934.4"/>
<path class="k2" d="M1586.2 795C1586.3 805 1586.8 829.2 1587 854.9C1587.3 880.5 1584.6 928.7 1587.9 948.9C1591.2 969.2 1603.6 971.7 1606.7 976.3"/>
<path class="k" d="M1590.5 854.9C1590.6 870 1590.9 929.7 1591.3 945.5C1591.7 961.3 1592.7 949.1 1593 949.8"/>
<path class="k" d="M1600.7 795C1601.2 809.3 1601.7 852.3 1603.3 880.5C1604.9 908.7 1609 950.4 1610.1 964.3"/>
<path class="k" d="M1611.8 795C1612 817.2 1611.8 900.2 1612.7 928.4C1613.6 956.6 1617.4 958 1617 964.3C1616.5 970.6 1614.1 968.5 1610.1 966C1606.1 963.6 1595.9 952.5 1593 949.8"/>
<path class="k" d="M1586.2 856.6L1590.5 854.9"/>
<path class="k" d="M1587 926.7L1612.7 930.1"/>
<ellipse class="f" cx="1593.0" cy="861.7" rx="2.9" ry="2.9"/>
<path class="k2" d="M1661.4 795C1661.7 812.1 1663.7 872 1663.1 897.6C1662.6 923.3 1661.2 936.7 1658 948.9C1654.9 961.2 1652.3 966.6 1644.3 971.2C1636.4 975.7 1619.3 972.6 1610.1 976.3C1601 980 1593 990.5 1589.6 993.4"/>
<path class="k" d="M1658.9 897.6L1657.2 940.4"/>
<path class="k2" d="M1633.2 851.4L1640.9 842.9L1646 844.6L1646 870.3L1639.2 877.1L1634.1 878.8Z"/>
<path class="k" d="M1636.6 853.1L1642.6 854.9L1642.6 868.5L1636.6 872Z"/>
<path class="k2" d="M1638.9 877.1L1640.6 969.4"/>
<path class="k2" d="M1641.8 877.1L1643.5 967.7"/>
<path class="k2" d="M1476.7 913L1522.9 937L1558.8 949.8L1564.8 966L1562.2 981.4L1520.3 959.2L1476.7 931.8L1476.7 913"/>
<path class="k" d="M1478.4 910.4L1524.6 932.7L1557.1 947.2"/>
<path class="k" d="M1522.9 937L1520.3 959.2"/>
<path class="k2" d="M1558.8 949.8L1586.2 937"/>
<path class="k2" d="M1564.8 966L1586.2 955.8"/>
<path class="k2" d="M1562.2 981.4L1589.6 993.4"/>
<path class="k" d="M1557.1 947.2L1582.8 933.5"/>
<path class="k" d="M1473.3 911.3L1476.7 913"/>
<path class="k" d="M1457.9 917.3L1476.7 931.8"/>
<ellipse class="f" cx="1470.7" cy="912.2" rx="2.6" ry="2.6"/>
<ellipse class="f" cx="1570.5" cy="970.3" rx="2.4" ry="2.4"/>
<path class="k3" d="M1536.6 972.9L1557.1 979.7"/>
<path class="k3" d="M1544.3 963.5L1544.3 974.6"/>
<path class="k3" d="M1557.1 969.4L1558 978.9"/>
<path class="k2" d="M1457.9 917.1L1431.4 936.8L1427.1 944.5L1428 979.5L1445.9 1003.5L1524.6 1047.9L1558.8 1053.9L1564 1024.9L1570.8 1016.3"/>
<path class="k2" d="M1434.8 933.4L1438.2 922.2L1453.6 912.8L1456.2 914.5"/>
<path class="k" d="M1439.1 930.8L1441.7 923.9L1454.5 916.2"/>
<path class="k2" d="M1431.4 936.8L1447.7 949.6L1517.8 985.5L1570.8 1016.3"/>
<path class="k" d="M1429.7 940.2L1445.1 957.3L1469.9 965.8L1524.6 993.2L1545.1 1006.9L1540 1019.7L1524.6 1047.1"/>
<path class="k" d="M1445.1 957.3L1446.8 1002.6"/>
<path class="k" d="M1447.7 1003.5L1522.9 1045.4"/>
<path class="t" d="M1447.3 1000.9L1523.8 1042.8"/>
<path class="k" d="M1564 1024.9L1545.1 1006.9"/>
<path class="k" d="M1463.9 955.6L1489.6 941.9"/>
<path class="k" d="M1473.3 960.7L1499 947"/>
<path class="k" d="M1497.3 976.1L1522.9 960.7"/>
<path class="k" d="M1521.2 989.8L1545.1 975.3"/>
<path class="k" d="M1531.5 994.9L1558.8 979.5"/>
<path class="k" d="M1458.8 957.3L1460.5 962.4"/>
<path class="k" d="M1467.3 959L1469 965.8"/>
<path class="k2" d="M1481 980.4L1504.9 993.2L1502.4 1018L1478.4 1005.2Z"/>
<path class="f" d="M1457.1 977L1461.3 978.7L1461.7 987.2L1457.4 985.5Z"/>
<ellipse class="f" cx="1509.7" cy="998.0" rx="2.9" ry="3.2" transform="rotate(-15 1509.7 998.0)"/>
<ellipse cx="1520.4" cy="1016.0" rx="10.3" ry="13.9" transform="rotate(-15 1520.4 1016.0)" fill="#000"/>
<ellipse cx="1520.1" cy="1015.8" rx="4" ry="6.6" transform="rotate(-12 1520.4 1016.0)" fill="#fff"/>
<path class="k" d="M1520.6 1009.5L1519.6 1022.3"/>
<path class="k" d="M1449.4 990.6L1456.2 999.2"/>
<path class="k" d="M1456.2 1006L1462.2 1000.9"/>
<path class="k" d="M1487.8 1024.9L1491.3 1018.9"/>
<path class="k" d="M1518.6 1042L1521.2 1035.1"/>
<path class="k" d="M1517.8 993.2L1524.6 997.5"/>
<path class="k2" d="M1570.8 1016.3L1610.1 995.8L1661.4 954.7L1673.4 959.9L1674.8 988.1L1666.6 992.4L1665.7 1007.7L1618.7 1035.1L1581.1 1043.7L1562.2 1047.1L1558.8 1053.9"/>
<path class="k" d="M1570.8 1018.4L1611.8 1023.1L1617 1022.3L1659.7 997.5L1666.6 993.2"/>
<path class="k" d="M1610.1 1023.1L1610.1 1036.8"/>
<path class="k" d="M1620.4 1019.7L1620.4 1032"/>
<path class="k2" d="M1668.3 959L1668.3 991.5"/>
<path class="k" d="M1661.4 954.7L1668.3 959"/>
<path class="f" d="M1582.8 1011.2L1651.2 975.3L1656.3 980.4L1652.9 997.5L1617 1019.7L1610.1 1019.7L1586.2 1012.9Z"/>
<path class="w" style="stroke:none" d="M1651.2 980.4L1656 982.1L1654.3 995.8L1652 993.2Z"/>
<ellipse class="k2" cx="1586.2" cy="1033.1" rx="6.5" ry="3.8"/>
<ellipse class="f" cx="1642.6" cy="1017.2" rx="6.0" ry="1.9" transform="rotate(-25 1642.6 1017.2)"/>
<path class="k2" d="M1564 1048.8L1575.9 1044.5L1618.7 1036.8"/>
<path class="k2" d="M1540.9 1054.2V1058.2A8.5 3.8 0 0 0 1557.9 1058.2V1054.2"/>
<path class="k" d="M1540.9 1054.8A8.5 3.8 0 0 0 1557.9 1054.8"/>
<path class="k" d="M1588.8 993.2C1593.7 991.9 1610 988.8 1618.7 985.5C1627.4 982.2 1634.1 979.5 1640.9 973.5C1647.8 967.6 1656.6 953.6 1659.7 949.6"/>
<path class="k2" d="M1587.9 951.3L1606.7 975.3L1610.1 980.4"/>

<!-- top -->
<g transform="translate(302.2,865.1)">
<path class="k3" style="stroke-width:2.4" d="M0 -46.7L-27.1 -46.7L-46.3 -41.1L-49.4 -37.1L-62.2 -21.2L-65 -19.6L-65 0L-65 19.6L-62.2 21.2L-49.4 37.1L-46.3 41.1L-27.1 46.7L0 46.7L27.1 46.7L46.3 41.1L49.4 37.1L62.2 21.2L65 19.6L65 0L65 -19.6L62.2 -21.2L49.4 -37.1L46.3 -41.1L27.1 -46.7L0 -46.7Z"/>
<path class="k2" d="M0 -44.2L-26 -44.2L-44 -38.8L-59 -20L-61.5 -17L-61.5 0L-61.5 17L-59 20L-44 38.8L-26 44.2L0 44.2L26 44.2L44 38.8L59 20L61.5 17L61.5 0L61.5 -17L59 -20L44 -38.8L26 -44.2L0 -44.2Z"/>
<path class="k2" d="M-49.7 -37V37M49.7 -37V37"/>
<path class="k3" style="stroke-width:2.6" d="M-46 -39.6L46 -39.6"/>
<path class="k2" d="M-28 -44.3L28 -44.3"/>
<path class="k" d="M-49.7 -37L-46 -41L-27 -42.6L27 -42.6L46 -41L49.7 -37"/>
<path class="k3" style="stroke-width:2.6" d="M-46 39.6L46 39.6"/>
<path class="k2" d="M-28 44.3L28 44.3"/>
<path class="k" d="M-49.7 37L-46 41L-27 42.6L27 42.6L46 41L49.7 37"/>
<path class="k2" d="M-21.5 -46.7L-21.5 -38M-21.5 46.7L-21.5 38"/>
<path class="k2" d="M21.5 -46.7L21.5 -38M21.5 46.7L21.5 38"/>
<path class="k3" style="stroke-width:3" d="M-50 -22Q-62 -18 -62 0Q-62 18 -50 22"/>
<path class="k2" d="M-50 -17Q-56.5 -13 -56.5 0Q-56.5 13 -50 17"/>
<path class="k3" style="stroke-width:2.6" d="M-48 -22V22"/>
<path class="k" d="M-52.8 -24V24"/>
<path class="k" d="M-49.7 -21H-64M-49.7 21H-64"/>
<rect class="f" x="-43.1" y="-12.2" width="8.4" height="24.4"/>
<rect class="k" x="-44.6" y="-14" width="11.4" height="28"/>
<path class="k3" style="stroke-width:3" d="M50 -22Q62 -18 62 0Q62 18 50 22"/>
<path class="k2" d="M50 -17Q56.5 -13 56.5 0Q56.5 13 50 17"/>
<path class="k3" style="stroke-width:2.6" d="M48 -22V22"/>
<path class="k" d="M52.8 -24V24"/>
<path class="k" d="M49.7 -21H64M49.7 21H64"/>
<rect class="f" x="34.7" y="-12.2" width="8.4" height="24.4"/>
<rect class="k" x="33.2" y="-14" width="11.4" height="28"/>
<ellipse class="k2" cx="0" cy="0" rx="44.3" ry="37.4"/>
<ellipse class="k2" cx="0" cy="0" rx="39.6" ry="33.8"/>
<ellipse class="k2" cx="0" cy="0" rx="35.4" ry="31.2"/>
<path class="k2" d="M-16.6 27.5L-20.8 33.0M-16.6 -27.5L-20.8 -33.0M-20.8 25.2L-26.0 30.3M-20.8 -25.2L-26.0 -30.3M-24.6 22.4L-30.8 26.9M-24.6 -22.4L-30.8 -26.9M-27.9 19.2L-34.9 23.0M-27.9 -19.2L-34.9 -23.0M-30.7 15.6L-38.4 18.7M-30.7 -15.6L-38.4 -18.7M-32.8 11.7L-41.1 14.0M-32.8 -11.7L-41.1 -14.0M16.6 27.5L20.8 33.0M16.6 -27.5L20.8 -33.0M20.8 25.2L26.0 30.3M20.8 -25.2L26.0 -30.3M24.6 22.4L30.8 26.9M24.6 -22.4L30.8 -26.9M27.9 19.2L34.9 23.0M27.9 -19.2L34.9 -23.0M30.7 15.6L38.4 18.7M30.7 -15.6L38.4 -18.7M32.8 11.7L41.1 14.0M32.8 -11.7L41.1 -14.0"/>
<path class="k" d="M-14.3 28.3L-17.8 34.7M-11.9 28.3L-15.4 34.7M-14.3 -28.3L-17.8 -34.7M-11.9 -28.3L-15.4 -34.7M11.9 28.3L15.4 34.7M14.3 28.3L17.8 34.7M11.9 -28.3L15.4 -34.7M14.3 -28.3L17.8 -34.7"/>
<path class="f" fill-rule="evenodd" d="M-31.4 0A31.4 29.9 0 1 0 31.4 0A31.4 29.9 0 1 0 -31.4 0ZM-23.5 0A23.5 23.4 0 1 1 23.5 0A23.5 23.4 0 1 1 -23.5 0Z"/>
<path class="k" d="M0 -18V-9.6M0 -6V6M0 10V18M-18 0H-9.6M10 0H18.4M-3 0H3"/>
<path class="k" d="M-20.3 -12.4L20 11.5"/>
<path class="k" d="M0 -47V-24M0 24V47"/>
</g>

<!-- tilt -->
<g style="--sw:2.1"><use href="#sd" transform="translate(778.0,692.4) scale(0.5)"/></g>
<g transform="translate(778.0,0)">
<path class="f" d="M-14 795L-12.5 793.3H12.5L14 795V825.5L8 828H-8L-14 825.5Z"/>
<rect class="f" x="-2.6" y="783.5" width="5.2" height="10.5"/>
<rect class="f" x="-5" y="872.4" width="10" height="21.6" rx="4.6"/>
<rect class="f" x="-2.2" y="890" width="4.4" height="76"/>
<rect class="f" x="-27.8" y="959.8" width="4.6" height="2.8" rx="1.2"/>
</g>

<!-- text -->
<g fill="#000">
<text x="73.8" y="1119.7" font-size="37.5" font-weight="bold" textLength="238.6" lengthAdjust="spacingAndGlyphs">Opus X Wash</text>
<text x="73.8" y="1144.1" font-size="16.6" textLength="116.2" lengthAdjust="spacingAndGlyphs">Art No. CLOXW</text>
<text x="541.9" y="1104" font-size="16.7" textLength="68" lengthAdjust="spacingAndGlyphs">Scale 1:5</text>
<text x="541.7" y="1123.1" font-size="16.7" textLength="81" lengthAdjust="spacingAndGlyphs">21.07.2021</text>
<text x="541.9" y="1142.7" font-size="16.7" textLength="19.4" lengthAdjust="spacingAndGlyphs">V1</text>
<text x="1310.8" y="1103.8" font-size="16.5" textLength="381.5" lengthAdjust="spacingAndGlyphs">Cameo<tspan font-size="9.3">®</tspan> is a registered brand of the Adam Hall Group.</text>
<text x="1310.8" y="1123" font-size="16.5" textLength="368.5" lengthAdjust="spacingAndGlyphs">Adam-Hall-Str. 1 · 61267 Neu-Anspach · Germany</text>
<text x="1310.8" y="1145.9" font-size="15.8" textLength="443.6" lengthAdjust="spacingAndGlyphs">DESIGNED AND ENGINEERED IN GERMANY. Assembl</text>
<text x="60.5" y="1184.5" font-size="16" textLength="1689" lengthAdjust="spacingAndGlyphs">Adam Hall assumes no responsibility or liability for the correctness, accuracy and completeness of this drawing. | Adam Hall übernimmt keine Gewähr oder Haftung für die Richtigkeit, Genauigkeit und</text>
<text x="749.6" y="725.4" font-size="27.4">270°</text>
</g>
<g fill="#000" font-size="16.9" stroke="#fff" stroke-width="0.28">
<text x="226" y="1020" textLength="149.5" lengthAdjust="spacingAndGlyphs">Total rotation 640 °</text>
<text x="132.5" y="1045.5" textLength="329.5" lengthAdjust="spacingAndGlyphs">Left rotation 320 ° and right rotation 320 °</text>
<text x="712.5" y="1023.1" textLength="149.5" lengthAdjust="spacingAndGlyphs">Total rotation 270 °</text>
<text x="610.5" y="1049.8" textLength="345" lengthAdjust="spacingAndGlyphs">Front rotation 135 ° and back rotation 135 °</text>
</g>

<!-- logo -->
<rect x="884.2" y="1087.5" width="66" height="65.4" rx="7.5" fill="#000"/>
<g transform="translate(878,1080) scale(0.06447)" fill="none" stroke="#fff" stroke-linecap="round" stroke-linejoin="round">
<path d="M875 300C770 400 710 520 655 710" stroke-width="98"/>
<path d="M655 700C610 830 500 960 370 1005" stroke-width="70"/>
<path d="M390 1000C250 1030 170 900 200 800C225 710 310 665 375 695" stroke-width="38"/>
<circle cx="357" cy="735" r="40" fill="#fff" stroke="none"/>
<ellipse cx="945" cy="278" rx="88" ry="40" transform="rotate(-18 945 278)" fill="#fff" stroke="none"/>
<path d="M810 325L700 318L612 385" stroke-width="30"/>
<path d="M612 385L572 332M612 385L640 410" stroke-width="17"/>
<path d="M850 390L895 505L962 440" stroke-width="30"/>
<path d="M962 440L1030 435M962 440L950 385" stroke-width="16"/>
<path d="M610 765L440 792L350 850" stroke-width="34"/>
<path d="M350 850L270 805M350 850L345 905" stroke-width="17"/>
<path d="M690 735L758 760L715 870" stroke-width="34"/>
<path d="M715 870L775 950M715 870L690 885" stroke-width="17"/>
</g>
<text x="957.6" y="1148" font-size="102" font-weight="bold" fill="#000" textLength="333.5" lengthAdjust="spacingAndGlyphs">cameo</text>
<text x="1281.2" y="1098.2" font-size="15.5" font-weight="bold" fill="#000">®</text>

</svg>
</body></html>
